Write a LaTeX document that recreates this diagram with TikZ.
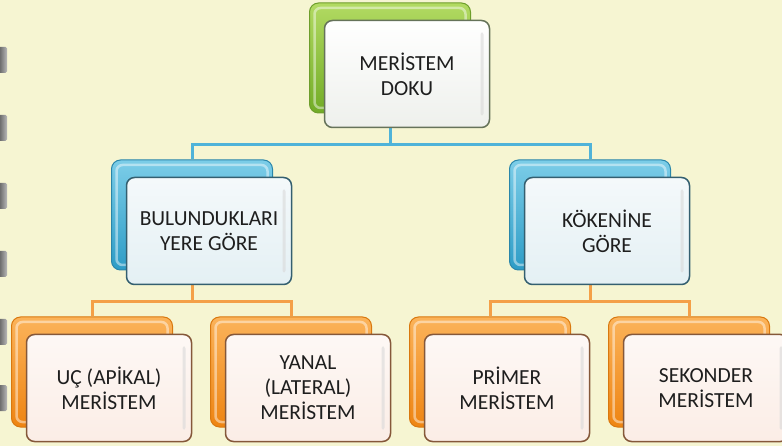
\documentclass[tikz,border=0pt]{standalone}
\usepackage{fontspec}
\setmainfont{Carlito}
\usepackage{xcolor}
\usepackage{tikz}
\usetikzlibrary{calc, positioning, backgrounds}

\definecolor{paper}{HTML}{F6F5D2}
\definecolor{inkgray}{HTML}{1E1E1E}
\definecolor{greentop}{HTML}{B2DA62}
\definecolor{greenbot}{HTML}{72AC26}
\definecolor{greenedge}{HTML}{6E9E2C}
\definecolor{greenline}{HTML}{66735A}
\definecolor{bluetop}{HTML}{7CCDE8}
\definecolor{bluebot}{HTML}{2D9CC6}
\definecolor{blueedge}{HTML}{2A86AA}
\definecolor{blueline}{HTML}{345F70}
\definecolor{bluetint}{HTML}{E4F0F4}
\definecolor{bluelink}{HTML}{4FB3D9}
\definecolor{orangetop}{HTML}{FBB35A}
\definecolor{orangebot}{HTML}{EE8412}
\definecolor{orangeedge}{HTML}{D9780F}
\definecolor{orangeline}{HTML}{85583A}
\definecolor{orangetint}{HTML}{FBEDE6}
\definecolor{orangelink}{HTML}{F4A048}
\definecolor{greentint}{HTML}{EEF0EC}

\begin{document}
\begin{tikzpicture}[x=1pt,y=-1pt,
    back box/.style={rectangle,rounded corners=9pt,minimum width=161pt,minimum height=110pt,inner sep=0pt,line width=1pt,
      path picture={\draw[white,opacity=0.45,line width=2.5pt,rounded corners=6pt]
        ([shift={(5pt,-5pt)}]path picture bounding box.north west) rectangle
        ([shift={(-5pt,5pt)}]path picture bounding box.south east);}},
    front box/.style={rectangle,rounded corners=8pt,minimum width=165pt,minimum height=107pt,inner sep=0pt,line width=1.5pt,
      align=center,text=inkgray,font=\fontsize{21.5}{25}\selectfont,
      path picture={\fill[gray!30,opacity=0.6,rounded corners=2pt]
        ([shift={(-9pt,-12pt)}]path picture bounding box.north east) rectangle
        ([shift={(-6pt,12pt)}]path picture bounding box.south east);}},
    green back/.style={back box,draw=greenedge,top color=greentop,bottom color=greenbot},
    blue back/.style={back box,draw=blueedge,top color=bluetop,bottom color=bluebot},
    orange back/.style={back box,draw=orangeedge,top color=orangetop,bottom color=orangebot},
    green front/.style={front box,draw=greenline,top color=white,bottom color=greentint},
    blue front/.style={front box,draw=blueline,top color=white!60!bluetint,bottom color=bluetint},
    orange front/.style={front box,draw=orangeline,top color=white!60!orangetint,bottom color=orangetint},
    link/.style={line width=3pt}]

  \clip (0,0) rectangle (782,446);

  \node[green back] (dokub) at (390,58) {};
  \node[green front] (doku) at ([shift={(17,16)}]dokub.center) {MER\.ISTEM\\DOKU};

  \node[blue back] (bulb) at (192,215) {};
  \node[blue front] (bul) at ([shift={(17,16)}]bulb.center) {BULUNDUKLARI\\YERE GÖRE};
  \node[blue back] (kokb) at (590,215) {};
  \node[blue front] (kok) at ([shift={(17,16)}]kokb.center) {KÖKEN\.INE\\GÖRE};

  \node[orange back] (ucb) at (92,372) {};
  \node[orange front] (uc) at ([shift={(17,16)}]ucb.center) {UÇ (AP\.IKAL)\\MER\.ISTEM};
  \node[orange back] (yanb) at (291,372) {};
  \node[orange front] (yan) at ([shift={(17,16)}]yanb.center) {YANAL\\(LATERAL)\\MER\.ISTEM};
  \node[orange back] (primb) at (490,372) {};
  \node[orange front] (prim) at ([shift={(17,16)}]primb.center) {PR\.IMER\\MER\.ISTEM};
  \node[orange back] (sekb) at (689,372) {};
  \node[orange front] (sek) at ([shift={(17,16)}]sekb.center) {SEKONDER\\MER\.ISTEM};

  \coordinate (row1) at (0,145);
  \coordinate (row2) at (0,302);

  \begin{scope}[on background layer]
    \fill[paper] (0,0) rectangle (782,446);
    \foreach \y in {47,115,183,251,319,385}
      \shade[left color=gray!70!black,right color=gray!55,rounded corners=1.5pt] (-2,\y) rectangle (7,\y+26);

    \draw[link,bluelink] (dokub.center) |- (row1 -| bulb) -- (bulb.north);
    \draw[link,bluelink] (dokub.center) |- (row1 -| kokb) -- (kokb.north);

    \draw[link,orangelink] (bulb.center) |- (row2 -| ucb) -- (ucb.north);
    \draw[link,orangelink] (bulb.center) |- (row2 -| yanb) -- (yanb.north);
    \draw[link,orangelink] (kokb.center) |- (row2 -| primb) -- (primb.north);
    \draw[link,orangelink] (kokb.center) |- (row2 -| sekb) -- (sekb.north);
  \end{scope}

\end{tikzpicture}
\end{document}
